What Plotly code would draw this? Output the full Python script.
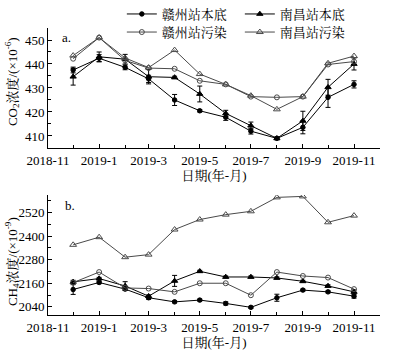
import plotly.graph_objects as go
from plotly.subplots import make_subplots

months = ["2018-12-01", "2019-01-01", "2019-02-01", "2019-03-01", "2019-04-01", "2019-05-01",
          "2019-06-01", "2019-07-01", "2019-08-01", "2019-09-01", "2019-10-01", "2019-11-01"]

series_names = ["赣州站本底", "南昌站本底", "赣州站污染", "南昌站污染"]

# CO2 (×10^-6)
co2_gz_bg = [437.5, 442.4, 438.6, 433.8, 425.0, 420.5, 417.8, 412.0, 409.0, 413.6, 426.1, 431.5]
co2_gz_bg_err = [1.2, 1.5, 1.0, 1.5, 2.3, 0.5, 1.3, 1.2, 0.5, 2.7, 4.2, 1.5]
co2_nc_bg = [434.7, 443.0, 442.0, 434.7, 434.4, 427.5, 419.4, 414.3, 409.0, 416.3, 430.3, 440.0]
co2_nc_bg_err = [3.5, 2.0, 2.0, 3.0, 0.5, 3.3, 1.3, 1.5, 0.5, 4.0, 3.3, 2.5]
co2_gz_pol = [442.2, 451.0, 441.5, 438.3, 438.0, 433.0, 431.5, 426.4, 426.1, 426.4, 439.8, 441.0]
co2_nc_pol = [443.5, 451.0, 442.5, 438.5, 445.8, 435.8, 431.5, 426.8, 421.1, 426.4, 440.3, 443.3]

# CH4 (×10^-9)
ch4_gz_bg = [2128, 2164, 2130, 2086, 2065, 2074, 2057, 2037, 2086, 2125, 2116, 2094]
ch4_gz_bg_err = [25, 6, 6, 8, 5, 5, 8, 5, 18, 5, 5, 10]
ch4_nc_bg = [2167, 2184, 2146, 2094, 2172, 2221, 2192, 2192, 2187, 2170, 2146, 2116]
ch4_nc_bg_err = [8, 6, 22, 6, 28, 5, 5, 5, 5, 5, 6, 10]
ch4_gz_pol = [2163, 2217, 2136, 2133, 2116, 2160, 2160, 2099, 2217, 2197, 2189, 2130]
ch4_nc_pol = [2356, 2395, 2293, 2306, 2434, 2485, 2510, 2527, 2598, 2603, 2471, 2505]

FONT = "Liberation Serif, Times New Roman, Noto Serif CJK SC, Noto Sans CJK SC, serif"
TF = dict(family=FONT, size=13, color="black")

styles = [
    dict(color="black", symbol="circle", size=4.5, lw=1, legend="legend"),
    dict(color="black", symbol="triangle-up", size=5.5, lw=1, legend="legend"),
    dict(color="#4a4a4a", symbol="circle-open", size=5, lw=1, legend="legend2"),
    dict(color="#4a4a4a", symbol="triangle-up-open", size=6, lw=1, legend="legend2"),
]

fig = make_subplots(rows=2, cols=1)

co2_sets = [(co2_gz_bg, co2_gz_bg_err), (co2_nc_bg, co2_nc_bg_err), (co2_gz_pol, None), (co2_nc_pol, None)]
ch4_sets = [(ch4_gz_bg, ch4_gz_bg_err), (ch4_nc_bg, ch4_nc_bg_err), (ch4_gz_pol, None), (ch4_nc_pol, None)]

for row, sets in ((1, co2_sets), (2, ch4_sets)):
    for i, (vals, err) in enumerate(sets):
        st = styles[i]
        tr = go.Scatter(
            x=months, y=vals, mode="lines+markers", name=series_names[i],
            showlegend=(row == 1), legendrank=i, legend=st["legend"],
            line=dict(color=st["color"], width=st["lw"]),
            marker=dict(symbol=st["symbol"], size=st["size"], color=st["color"],
                        line=dict(color=st["color"], width=1)),
        )
        if err is not None:
            tr.error_y = dict(type="data", array=err, visible=True, color="black", thickness=1, width=2.5)
        fig.add_trace(tr, row=row, col=1)

xcommon = dict(
    type="date", range=["2018-11-01", "2019-12-02"], tick0="2018-11-01", dtick="M2",
    tickformat="%Y-%-m", ticks="inside", ticklen=4, tickcolor="black",
    minor=dict(dtick="M1", ticks="inside", ticklen=3, tickcolor="black"),
    showline=True, linecolor="black", linewidth=1, showgrid=False, zeroline=False,
    tickfont=TF,
    title=dict(text="日期(年-月)", font=TF, standoff=4),
)
fig.update_xaxes(**xcommon)

ycommon = dict(
    ticks="inside", ticklen=4, tickcolor="black", showline=True, linecolor="black", linewidth=1,
    showgrid=False, zeroline=False, tickfont=TF,
)
fig.update_yaxes(**ycommon)

legend_common = dict(orientation="h", xref="container", yref="paper", x=0.31,
                     xanchor="left", yanchor="top", entrywidth=73, itemwidth=30,
                     font=TF, bgcolor="rgba(0,0,0,0)", tracegroupgap=0)

fig.update_layout(
    yaxis=dict(domain=[0.582, 1.0], range=[405, 455], dtick=10, tick0=410,
               minor=dict(dtick=5, ticks="inside", ticklen=3, tickcolor="black")),
    yaxis2=dict(domain=[0.0, 0.418], range=[1998, 2610], dtick=120, tick0=2040,
                minor=dict(dtick=60, ticks="inside", ticklen=3, tickcolor="black")),
    width=393, height=353,
    margin=dict(l=48, r=13, t=28, b=38, autoexpand=False),
    plot_bgcolor="white", paper_bgcolor="white",
    legend=dict(y=1.101, **legend_common),
    legend2=dict(y=1.038, **legend_common),
    annotations=[
        dict(text="a.", xref="paper", yref="paper", x=0.035, y=1.0, xanchor="left", yanchor="top",
             showarrow=False, font=TF),
        dict(text="b.", xref="paper", yref="paper", x=0.045, y=0.415, xanchor="left", yanchor="top",
             showarrow=False, font=TF),
        dict(text="CO<sub>2</sub>浓度/(×10<sup>-6</sup>)", xref="paper", yref="paper",
             x=-0.108, y=0.812, xanchor="center", yanchor="middle", textangle=-90,
             showarrow=False, font=TF),
        dict(text="CH<sub>4</sub>浓度/(×10<sup>-9</sup>)", xref="paper", yref="paper",
             x=-0.108, y=0.185, xanchor="center", yanchor="middle", textangle=-90,
             showarrow=False, font=TF),
    ],
)

fig.write_html("out.html", config={"displayModeBar": False},
               post_script="document.body.style.margin='0';")
